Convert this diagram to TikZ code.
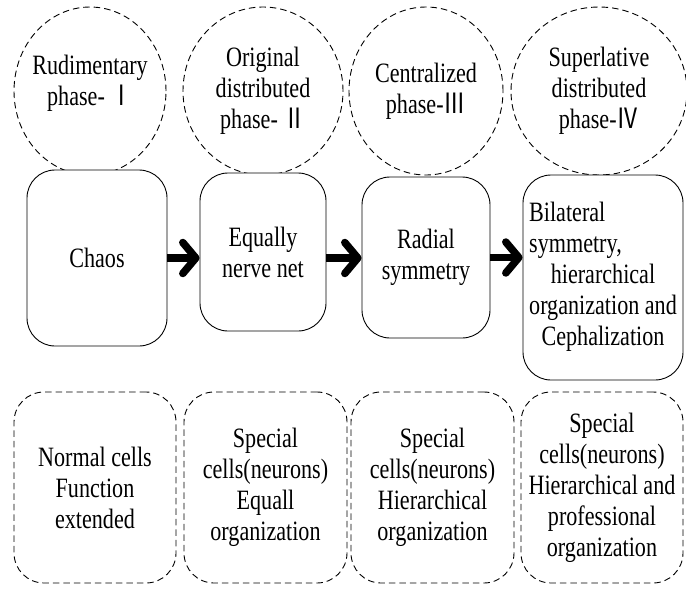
\documentclass[tikz,border=0pt]{standalone}
\usepackage{fontspec}
\setmainfont{Liberation Serif}[FakeStretch=0.79]
\newfontfamily\rnfont{Noto Sans CJK SC}[FakeStretch=0.8]
\newcommand\rnum[1]{{\rnfont #1}}
\usetikzlibrary{shapes.geometric,arrows.meta}
\begin{document}
\begin{tikzpicture}[x=1pt,y=-1pt,
  txt/.style={font=\fontsize{28}{31}\selectfont, align=center, inner sep=0pt},
  phase/.style={ellipse, draw, dashed, dash pattern=on 6.5pt off 4pt, line width=0.9pt,
    inner sep=0pt, minimum width=#1, minimum height=168pt},
  stage/.style={txt, rectangle, draw, line width=0.9pt, fill=white, rounded corners=28pt},
  cellbox/.style={txt, rectangle, draw, dashed, dash pattern=on 6.5pt off 4pt, line width=0.9pt,
    rounded corners=30pt, minimum width=162pt, minimum height=191pt},
  flow/.style={line width=7.5pt, -{Straight Barb[length=13pt,width=31pt,round]}}]
\useasboundingbox (0,0) rectangle (686,595);

% phases (dashed circles)
\node[phase=152pt] (c1) at (90,91) {};
\node[txt] (c1t) at (90,83) {Rudimentary\\phase- \rnum{Ⅰ}};
\node[phase=160pt, txt] (c2) at (263,91) {Original\\distributed\\phase- \rnum{Ⅱ}};
\node[phase=154pt, txt] (c3) at (426,91) {Centralized\\phase-\rnum{Ⅲ}};
\node[phase=176pt, txt] (c4) at (599,91) {Superlative\\distributed\\phase-\rnum{Ⅳ}};

% nervous system stages
\node[stage, minimum width=140pt, minimum height=176pt] (b1) at (97,258) {Chaos};
\node[stage, minimum width=126pt, minimum height=158pt] (b2) at (263,252) {Equally\\nerve net};
\node[stage, minimum width=128pt, minimum height=161pt] (b3) at (426,257.5) {Radial\\symmetry};
\node[stage, minimum width=160pt, minimum height=205pt] (b4) at (603,277.5)
  {\begin{tabular}{@{}c@{}}
   \multicolumn{1}{@{}l@{}}{Bilateral}\\
   \multicolumn{1}{@{}l@{}}{symmetry,}\\
   hierarchical\\
   organization and\\
   Cephalization
   \end{tabular}};

% transitions
\draw[flow] (b1.east) -- (b2.west |- b1.east);
\draw[flow] (b2.east |- b1.east) -- (b3.west |- b1.east);
\draw[flow] (b3.east) -- (b4.west |- b3.east);

% cell level
\node[cellbox] (d1) at (95,487.5) {Normal cells\\Function\\extended};
\node[cellbox, minimum width=163pt] (d2) at (265.5,487.5) {Special\\cells(neurons)\\Equall\\organization};
\node[cellbox, minimum width=163pt] (d3) at (432.5,487.5) {Special\\cells(neurons)\\Hierarchical\\organization};
\node[cellbox] (d4) at (602,487.5) {Special\\cells(neurons)\\Hierarchical and\\professional\\organization};
\end{tikzpicture}
\end{document}
